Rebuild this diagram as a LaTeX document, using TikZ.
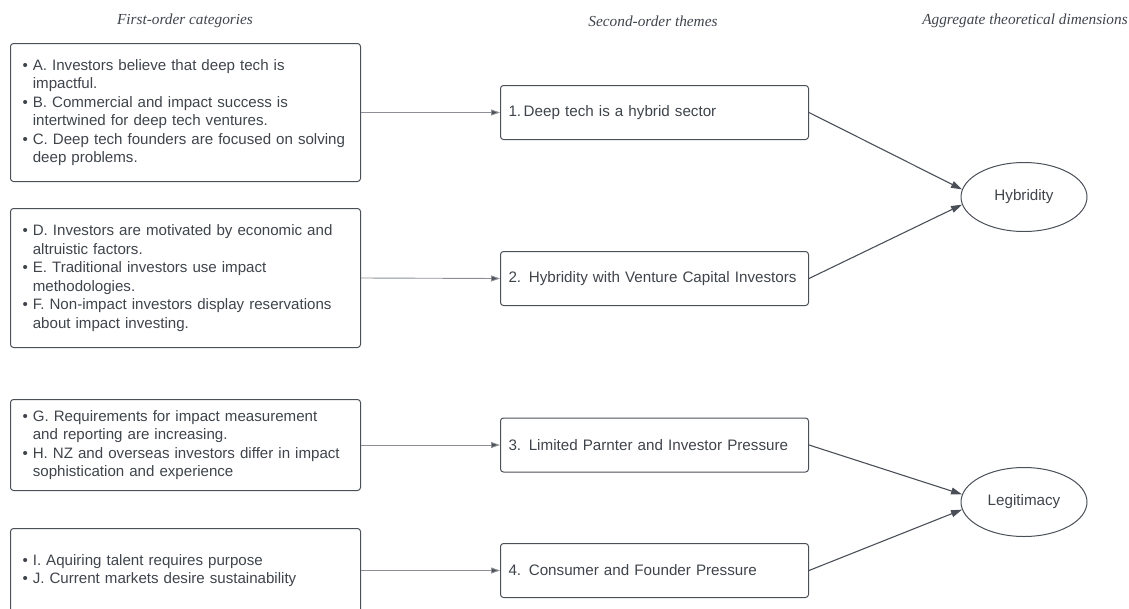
\documentclass[tikz,border=0pt]{standalone}
\usepackage{fontspec}
\setmainfont{Liberation Sans}
\newfontfamily\headfont{Liberation Serif}
\usetikzlibrary{arrows.meta,shapes.geometric}

\definecolor{linegray}{HTML}{4B5058}
\definecolor{textgray}{HTML}{3F444B}
\definecolor{feedgray}{HTML}{8C9096}

\newcommand{\ind}{\hphantom{\textbullet\ }}

\begin{document}
\begin{tikzpicture}[x=1pt, y=-1pt,
    catbox/.style={draw=linegray, line width=1pt, rounded corners=3pt, text=textgray,
        anchor=north west, text width=326pt, inner xsep=12pt, align=left,
        font=\fontsize{15.1}{18.5}\selectfont},
    themebox/.style={draw=linegray, line width=1pt, rounded corners=3pt, text=textgray,
        anchor=north west, text width=292pt, inner xsep=8pt, align=left,
        minimum height=54pt, font=\fontsize{15.2}{18}\selectfont},
    dimension/.style={draw=linegray, line width=1pt, ellipse, text=textgray,
        minimum width=126pt, minimum height=69pt, inner sep=0pt,
        font=\fontsize{15.2}{18}\selectfont},
    head/.style={text=textgray, font=\headfont\itshape\fontsize{15.3}{18}\selectfont},
    feed/.style={draw=feedgray, line width=0.9pt, -{Triangle[length=9pt,width=6pt,fill=linegray]}},
    merge/.style={draw=linegray, line width=1.1pt, -{Triangle[length=11pt,width=7pt]}}]

    \useasboundingbox (0,0) rectangle (1129,608);

    % Column headings
    \node[head] (headcat) at (185,21) {First-order categories};
    \node[head] (headthm) at (653,21) {Second-order themes};
    \node[head] (headdim) at (1025,21) {Aggregate theoretical dimensions};

    % First-order categories
    \node[catbox, minimum height=138pt] (catA) at (10,43) {%
        \textbullet\ A. Investors believe that deep tech is\\
        \ind impactful.\\
        \textbullet\ B. Commercial and impact success is\\
        \ind intertwined for deep tech ventures.\\
        \textbullet\ C. Deep tech founders are focused on solving\\
        \ind deep problems.};
    \node[catbox, minimum height=139pt] (catD) at (10,208) {%
        \textbullet\ D. Investors are motivated by economic and\\
        \ind altruistic factors.\\
        \textbullet\ E. Traditional investors use impact\\
        \ind methodologies.\\
        \textbullet\ F. Non-impact investors display reservations\\
        \ind about impact investing.};
    \node[catbox, minimum height=91pt] (catG) at (10,399) {%
        \textbullet\ G. Requirements for impact measurement\\
        \ind and reporting are increasing.\\
        \textbullet\ H. NZ and overseas investors differ in impact\\
        \ind sophistication and experience};
    \node[catbox, minimum height=84pt] (catI) at (10,528) {%
        \textbullet\ I. Aquiring talent requires purpose\\
        \textbullet\ J. Current markets desire sustainability};

    % Second-order themes
    \node[themebox] (thm1) at (500,85) {1.\,Deep tech is a hybrid sector};
    \node[themebox] (thm2) at (500,251) {2. Hybridity with Venture Capital Investors};
    \node[themebox] (thm3) at (500,417.5) {3. Limited Parnter and Investor Pressure};
    \node[themebox] (thm4) at (500,543) {4. Consumer and Founder Pressure};

    % Aggregate dimensions
    \node[dimension] (hyb) at (1024,197) {Hybridity};
    \node[dimension] (leg) at (1024,502) {Legitimacy};

    % Draw the connectors
    \draw[feed] (catA.east) -- (thm1.west);
    \draw[feed] (catD.east) -- (thm2.west);
    \draw[feed] (catG.east) -- (thm3.west);
    \draw[feed] (catI.east) -- (thm4.west);

    \draw[merge] (thm1.east) -- (hyb.173);
    \draw[merge] (thm2.east) -- (hyb.187);
    \draw[merge] (thm3.east) -- (leg.173);
    \draw[merge] (thm4.east) -- (leg.187);

\end{tikzpicture}
\end{document}
